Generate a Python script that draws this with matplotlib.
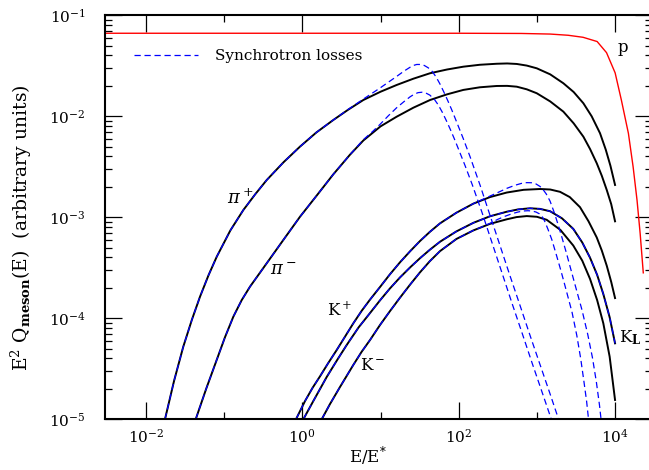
import numpy as np
import matplotlib.pyplot as plt
from matplotlib.ticker import FixedLocator, LogLocator, NullFormatter

plt.rcParams['font.family'] = 'DejaVu Serif'
plt.rcParams['mathtext.fontset'] = 'dejavuserif'

# values, as log10(E/E*) and log10(E^2 Q)
p_lx = [-2.53, 0.0, 2.0, 2.8, 3.17, 3.4, 3.59, 3.77, 3.89, 4.0, 4.08, 4.17, 4.23, 4.28, 4.32, 4.36]
p_ly = [-1.178, -1.178, -1.178, -1.18, -1.186, -1.198, -1.218, -1.26, -1.37, -1.57, -1.84, -2.17,
        -2.50, -2.83, -3.16, -3.55]

pip_lx = [-1.756, -1.64, -1.522, -1.41, -1.308, -1.20, -1.094, -0.92, -0.754, -0.60, -0.455, -0.24,
          -0.029, 0.18, 0.396, 0.59, 0.78, 1.0, 1.207, 1.42, 1.633, 1.85, 2.059, 2.27, 2.486, 2.62,
          2.742, 2.87, 2.998, 3.17, 3.338, 3.47, 3.594, 3.70, 3.807, 3.88, 3.94, 3.999]
pip_ly = [-5.0, -4.62, -4.281, -4.01, -3.786, -3.575, -3.39, -3.13, -2.928, -2.77, -2.631, -2.455,
          -2.30, -2.16, -2.037, -1.933, -1.839, -1.757, -1.69, -1.628, -1.574, -1.537, -1.509, -1.49,
          -1.480, -1.477, -1.482, -1.498, -1.525, -1.585, -1.673, -1.76, -1.871, -2.0, -2.168, -2.33,
          -2.49, -2.68]

pim_lx = [-1.363, -1.23, -1.095, -0.99, -0.882, -0.775, -0.669, -0.455, -0.243, -0.029, 0.184, 0.396,
          0.61, 0.78, 1.0, 1.207, 1.42, 1.633, 1.85, 2.059, 2.27, 2.486, 2.62, 2.742, 2.87, 2.998,
          3.17, 3.338, 3.47, 3.594, 3.68, 3.765, 3.83, 3.893, 3.95, 3.999]
pim_ly = [-5.0, -4.70, -4.413, -4.19, -3.984, -3.82, -3.687, -3.455, -3.225, -2.994, -2.785, -2.575,
          -2.38, -2.24, -2.10, -2.004, -1.915, -1.839, -1.783, -1.739, -1.713, -1.70, -1.699, -1.707,
          -1.733, -1.772, -1.853, -1.954, -2.07, -2.202, -2.325, -2.465, -2.59, -2.73, -2.87, -3.04]

kp_lx = [-0.081, 0.035, 0.13, 0.226, 0.33, 0.44, 0.546, 0.652, 0.76, 0.866, 0.994, 1.12, 1.25, 1.38,
         1.505, 1.63, 1.761, 1.97, 2.187, 2.40, 2.614, 2.83, 3.04, 3.17, 3.296, 3.42, 3.551, 3.66,
         3.765, 3.83, 3.893, 3.95, 3.999]
kp_ly = [-5.0, -4.819, -4.69, -4.575, -4.445, -4.314, -4.182, -4.05, -3.925, -3.815, -3.69, -3.565,
         -3.445, -3.335, -3.235, -3.145, -3.06, -2.955, -2.865, -2.80, -2.755, -2.728, -2.72, -2.725,
         -2.748, -2.80, -2.90, -3.04, -3.20, -3.33, -3.48, -3.64, -3.80]

kl_lx = [0.013, 0.141, 0.312, 0.44, 0.568, 0.72, 0.866, 0.994, 1.12, 1.25, 1.38, 1.505, 1.63, 1.761,
         1.97, 2.187, 2.40, 2.614, 2.76, 2.912, 3.04, 3.168, 3.32, 3.465, 3.58, 3.679, 3.77, 3.849,
         3.93, 3.999]
kl_ly = [-5.0, -4.819, -4.581, -4.42, -4.264, -4.09, -3.948, -3.822, -3.705, -3.595, -3.495, -3.405,
         -3.322, -3.242, -3.14, -3.055, -2.99, -2.945, -2.922, -2.911, -2.917, -2.94, -3.01, -3.115,
         -3.25, -3.40, -3.57, -3.76, -3.99, -4.248]

km_lx = [0.248, 0.354, 0.482, 0.652, 0.76, 0.866, 0.994, 1.12, 1.25, 1.38, 1.505, 1.63, 1.761, 1.97,
         2.187, 2.40, 2.614, 2.74, 2.87, 3.0, 3.125, 3.30, 3.465, 3.58, 3.679, 3.77, 3.849, 3.93, 3.999]
km_ly = [-5.0, -4.849, -4.68, -4.462, -4.33, -4.215, -4.066, -3.93, -3.795, -3.665, -3.545, -3.435,
         -3.335, -3.215, -3.13, -3.065, -3.02, -2.998, -2.988, -2.995, -3.025, -3.125, -3.28, -3.43,
         -3.61, -3.82, -4.05, -4.38, -4.809]

# with synchrotron losses (dashed)
pip_syn_lx = [-1.756, -1.64, -1.522, -1.41, -1.308, -1.20, -1.094, -0.92, -0.754, -0.60, -0.455,
              -0.24, -0.029, 0.18, 0.396, 0.59, 0.78, 0.994, 1.207, 1.30, 1.377, 1.42, 1.463, 1.51,
              1.56, 1.61, 1.66, 1.71, 1.76, 1.81, 1.86, 1.91, 1.953, 2.055, 2.145, 2.272, 2.40, 2.528,
              2.656, 2.784, 2.91, 3.039, 3.16, 3.276]
pip_syn_ly = [-5.0, -4.62, -4.281, -4.01, -3.786, -3.575, -3.39, -3.13, -2.928, -2.77, -2.631,
              -2.455, -2.30, -2.16, -2.037, -1.93, -1.83, -1.72, -1.605, -1.553, -1.515, -1.497,
              -1.487, -1.487, -1.497, -1.52, -1.555, -1.61, -1.68, -1.76, -1.845, -1.935, -2.017,
              -2.215, -2.40, -2.68, -2.98, -3.28, -3.58, -3.873, -4.165, -4.457, -4.73, -4.997]

pim_syn_lx = [-1.363, -1.23, -1.095, -0.99, -0.882, -0.775, -0.669, -0.455, -0.243, -0.029, 0.184,
              0.396, 0.61, 0.78, 0.90, 0.994, 1.1, 1.207, 1.30, 1.377, 1.43, 1.48, 1.53, 1.58, 1.63,
              1.688, 1.738, 1.788, 1.838, 1.888, 1.938, 1.981, 2.083, 2.173, 2.30, 2.428, 2.556, 2.684,
              2.812, 2.938, 3.067, 3.183]
pim_syn_ly = [-5.0, -4.70, -4.413, -4.19, -3.984, -3.82, -3.687, -3.455, -3.225, -2.994, -2.785,
              -2.575, -2.38, -2.232, -2.15, -2.08, -1.995, -1.915, -1.855, -1.808, -1.782, -1.766,
              -1.762, -1.77, -1.79, -1.832, -1.887, -1.957, -2.037, -2.122, -2.212, -2.294, -2.492,
              -2.677, -2.957, -3.257, -3.557, -3.857, -4.15, -4.442, -4.734, -4.997]

kp_syn_lx = [-0.081, 0.035, 0.13, 0.226, 0.33, 0.44, 0.546, 0.652, 0.76, 0.866, 0.994, 1.12, 1.25,
             1.38, 1.505, 1.63, 1.761, 1.97, 2.187, 2.30, 2.40, 2.528, 2.62, 2.72, 2.80, 2.87, 2.93,
             2.988, 3.04, 3.078, 3.12, 3.168, 3.22, 3.27, 3.32, 3.372, 3.474, 3.577, 3.65, 3.71, 3.76,
             3.80, 3.82]
kp_syn_ly = [-5.0, -4.819, -4.69, -4.575, -4.445, -4.314, -4.182, -4.05, -3.925, -3.815, -3.69,
             -3.565, -3.445, -3.335, -3.235, -3.145, -3.06, -2.955, -2.865, -2.825, -2.79, -2.745,
             -2.712, -2.683, -2.665, -2.657, -2.658, -2.67, -2.695, -2.725, -2.77, -2.84, -2.95, -3.07,
             -3.20, -3.34, -3.63, -3.92, -4.16, -4.39, -4.63, -4.86, -5.0]

kl_syn_lx = kl_lx
kl_syn_ly = kl_ly

km_syn_lx = [0.248, 0.354, 0.482, 0.652, 0.76, 0.866, 0.994, 1.12, 1.25, 1.38, 1.505, 1.63, 1.761,
             1.97, 2.187, 2.30, 2.40, 2.50, 2.592, 2.68, 2.758, 2.82, 2.886, 2.94, 2.988, 3.03, 3.065,
             3.10, 3.142, 3.19, 3.244, 3.30, 3.346, 3.449, 3.51, 3.56, 3.60, 3.635, 3.66]
km_syn_ly = [-5.0, -4.849, -4.68, -4.462, -4.33, -4.215, -4.066, -3.93, -3.795, -3.665, -3.545,
             -3.435, -3.335, -3.215, -3.13, -3.095, -3.06, -3.02, -2.99, -2.965, -2.948, -2.938,
             -2.935, -2.938, -2.948, -2.965, -2.99, -3.04, -3.12, -3.22, -3.36, -3.51, -3.64, -3.94,
             -4.17, -4.40, -4.62, -4.82, -5.0]


def pw(a):
    return 10 ** np.array(a)


fig = plt.figure(figsize=(6.49, 4.70), dpi=100)
ax = fig.add_axes([0.1618, 0.1079, 0.8435, 0.8596])

ax.plot(pw(p_lx), pw(p_ly), color='red', lw=1.0)

for lx, ly in [(pip_lx, pip_ly), (pim_lx, pim_ly), (kp_lx, kp_ly), (kl_lx, kl_ly), (km_lx, km_ly)]:
    ax.plot(pw(lx), pw(ly), color='black', lw=1.4, solid_joinstyle='round')

syn = [(pip_syn_lx, pip_syn_ly), (pim_syn_lx, pim_syn_ly), (kp_syn_lx, kp_syn_ly),
       (kl_syn_lx, kl_syn_ly), (km_syn_lx, km_syn_ly)]
for i, (lx, ly) in enumerate(syn):
    ax.plot(pw(lx), pw(ly), color='blue', lw=0.9, dashes=(5, 3),
            label='Synchrotron losses' if i == 0 else None)

ax.set_xscale('log')
ax.set_yscale('log')
ax.set_xlim(3e-3, 3e4)
ax.set_ylim(1e-5, 1e-1)

ax.xaxis.set_major_locator(FixedLocator([1e-2, 1, 1e2, 1e4]))
ax.xaxis.set_minor_locator(FixedLocator([1e-1, 1e1, 1e3]))
ax.xaxis.set_minor_formatter(NullFormatter())
ax.yaxis.set_major_locator(LogLocator(base=10))
ax.yaxis.set_minor_locator(LogLocator(base=10, subs=range(2, 10)))
ax.yaxis.set_minor_formatter(NullFormatter())

ax.tick_params(which='both', direction='in', top=True, right=True, labelsize=11)
ax.tick_params(which='major', length=12, width=0.9)
ax.tick_params(which='minor', length=5, width=0.9)
ax.tick_params(axis='y', which='major', pad=14)
ax.tick_params(axis='x', which='major', pad=6)
for s in ax.spines.values():
    s.set_linewidth(1.5)

ax.set_xlabel(r'$\mathrm{E/E^{*}}$', fontsize=12)
ax.xaxis.set_label_coords(0.481, -0.063)
ax.set_ylabel(r'$\mathrm{E^2\ Q_{\mathbf{meson}}(E)}$  (arbitrary units)', fontsize=13.5)
ax.yaxis.set_label_coords(-0.13, 0.474)

ax.text(0.16, 1.55e-3, r'$\pi^+$', fontsize=13, ha='center', va='center')
ax.text(0.567, 3.0e-4, r'$\pi^-$', fontsize=13, ha='center', va='center')
ax.text(3.04, 1.21e-4, r'$\mathrm{K}^+$', fontsize=12, ha='center', va='center')
ax.text(8.0, 3.44e-5, r'$\mathrm{K}^-$', fontsize=12, ha='center', va='center')
ax.text(1.55e4, 6.4e-5, r'$\mathrm{K}_{\mathbf{L}}$', fontsize=12, ha='center', va='center')
ax.text(1.26e4, 0.0485, 'p', fontsize=12, ha='center', va='center')

ax.legend(loc='center left', bbox_to_anchor=(0.053, 0.899), frameon=False, fontsize=11,
          handlelength=4.2, handletextpad=1.1, borderpad=0, borderaxespad=0)

fig.savefig('out.png', dpi=100)
